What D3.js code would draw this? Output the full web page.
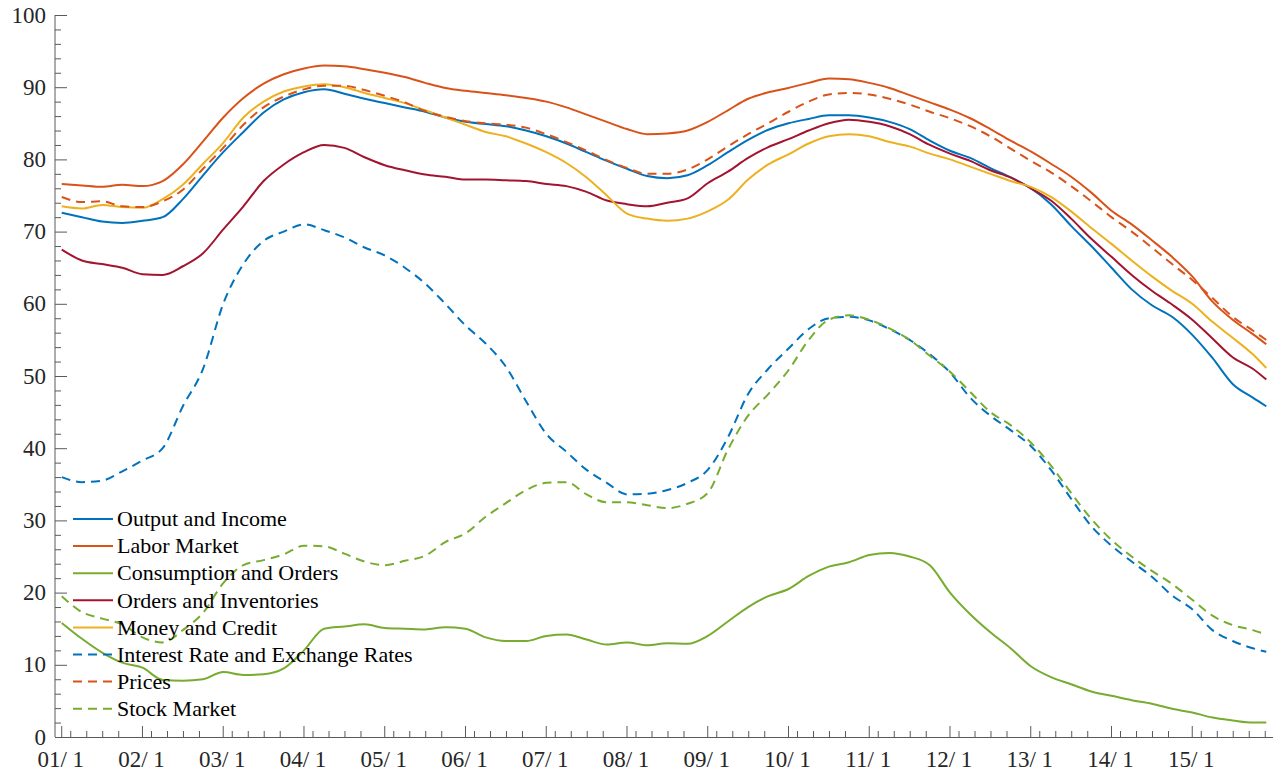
<!DOCTYPE html>
<html>
<head>
<meta charset="utf-8">
<script src="https://cdn.jsdelivr.net/npm/d3@7"></script>
<style>
  html, body { margin: 0; padding: 0; background: #fff; }
  svg { display: block; }
  text { font-family: "Liberation Serif", "Times New Roman", serif; fill: #262626; }
</style>
</head>
<body>
<svg id="chart" width="1273" height="775"></svg>
<script>
// Month index (0 = 2001 Jan), sampled every 3 months
const months = [0,3,6,9,12,15,18,21,24,27,30,33,36,39,42,45,48,51,54,57,60,63,66,69,72,75,78,81,84,87,90,93,96,99,102,105,108,111,114,117,120,123,126,129,132,135,138,141,144,147,150,153,156,159,162,165,168,171,174,177,179];

const outputIncome = [72.6,72.0,71.4,71.2,71.5,72.0,74.5,77.8,81.0,83.8,86.5,88.3,89.3,89.7,89.1,88.4,87.8,87.2,86.6,85.8,85.2,84.9,84.6,84.0,83.2,82.2,81.0,79.8,78.7,77.7,77.4,77.8,79.2,81.0,82.7,84.1,85.0,85.6,86.1,86.1,85.8,85.2,84.2,82.6,81.2,80.2,78.8,77.5,76.0,73.8,70.8,68.0,65.0,62.0,59.8,58.2,55.7,52.5,48.9,47.0,45.8];
const laborMarket = [76.6,76.4,76.2,76.5,76.3,77.0,79.3,82.5,85.8,88.5,90.5,91.8,92.6,93.0,92.9,92.5,92.0,91.4,90.6,89.9,89.5,89.2,88.9,88.5,88.0,87.2,86.2,85.2,84.2,83.5,83.6,84.0,85.2,86.8,88.4,89.3,89.9,90.6,91.2,91.1,90.6,89.9,88.9,87.9,86.9,85.7,84.2,82.6,81.1,79.4,77.6,75.4,72.9,71.0,68.8,66.5,63.8,60.3,57.8,55.8,54.4];
const consumptionOrders = [15.8,13.6,11.7,10.3,9.6,7.9,7.8,8.0,9.0,8.6,8.7,9.5,12.0,15.0,15.3,15.6,15.1,15.0,14.9,15.2,15.0,13.8,13.3,13.3,14.0,14.2,13.5,12.8,13.1,12.7,13.0,12.9,14.0,16.0,18.0,19.5,20.5,22.3,23.6,24.2,25.2,25.5,25.0,23.8,20.0,17.0,14.5,12.3,9.8,8.3,7.3,6.3,5.7,5.1,4.6,3.9,3.4,2.7,2.3,2.0,2.0];
const ordersInventories = [67.5,66.0,65.5,65.0,64.1,64.0,65.2,67.0,70.3,73.5,77.0,79.3,81.0,82.0,81.6,80.3,79.2,78.5,77.9,77.6,77.2,77.2,77.1,77.0,76.6,76.3,75.5,74.3,73.8,73.5,74.0,74.6,76.7,78.3,80.2,81.7,82.8,84.0,85.0,85.5,85.2,84.6,83.5,82.0,80.8,79.8,78.5,77.5,76.0,74.3,71.8,69.0,66.5,64.0,61.8,59.9,57.8,55.2,52.6,51.0,49.5];
const moneyCredit = [73.5,73.2,73.7,73.4,73.3,74.5,76.5,79.4,82.3,85.8,88.0,89.4,90.1,90.4,90.0,89.2,88.5,87.8,86.8,85.8,84.8,83.8,83.2,82.2,81.0,79.5,77.5,75.0,72.5,71.8,71.5,71.8,72.8,74.4,77.2,79.3,80.7,82.2,83.2,83.5,83.2,82.4,81.8,80.8,80.0,79.0,78.0,77.0,76.2,74.8,72.8,70.5,68.3,66.0,63.8,61.8,60.0,57.5,55.3,53.0,51.1];
const interestExchange = [36.0,35.3,35.5,36.8,38.3,40.0,45.8,51.0,60.0,65.5,68.7,70.0,71.0,70.2,69.2,67.8,66.7,65.0,62.8,60.0,57.0,54.5,51.3,46.5,42.0,39.5,37.0,35.2,33.6,33.7,34.2,35.2,37.0,41.5,47.5,51.0,53.8,56.5,58.0,58.2,57.7,56.5,55.0,53.0,50.5,47.0,44.5,42.5,40.3,37.0,33.0,29.2,26.5,24.3,22.2,19.6,17.7,14.8,13.3,12.3,11.8];
const prices = [74.8,74.1,74.2,73.5,73.4,74.2,75.8,78.7,81.6,84.8,87.2,88.7,89.7,90.2,90.2,89.6,88.8,87.9,86.7,85.9,85.3,85.0,84.8,84.4,83.5,82.4,81.2,79.9,78.8,78.0,78.0,78.6,80.0,81.8,83.5,85.0,86.6,88.0,89.0,89.2,89.0,88.4,87.6,86.6,85.7,84.6,83.2,81.5,79.8,78.2,76.3,74.2,72.0,70.0,67.8,65.5,63.3,60.8,58.2,56.3,55.0];
const stockMarket = [19.5,17.3,16.4,15.6,13.8,13.1,14.8,17.2,21.3,23.8,24.5,25.3,26.5,26.4,25.4,24.3,23.8,24.4,25.1,27.0,28.2,30.5,32.4,34.2,35.2,35.3,33.6,32.5,32.5,32.1,31.7,32.3,33.8,39.8,44.5,47.5,50.8,55.0,57.8,58.4,57.8,56.6,55.0,52.8,50.6,47.8,45.0,43.2,40.8,37.6,33.8,30.2,27.3,25.0,23.0,21.2,19.0,16.8,15.5,14.8,14.2];

const seriesNames = ["Output and Income","Labor Market","Consumption and Orders","Orders and Inventories","Money and Credit","Interest Rate and Exchange Rates","Prices","Stock Market"];
const seriesValues = [outputIncome, laborMarket, consumptionOrders, ordersInventories, moneyCredit, interestExchange, prices, stockMarket];
const seriesColors = ["#0072BD","#D95319","#77AC30","#A2142F","#EDB120","#0072BD","#D95319","#77AC30"];
const seriesDashed = [false,false,false,false,false,true,true,true];

const yearLabels = ["01/ 1","02/ 1","03/ 1","04/ 1","05/ 1","06/ 1","07/ 1","08/ 1","09/ 1","10/ 1","11/ 1","12/ 1","13/ 1","14/ 1","15/ 1"];
const yTicks = [0,10,20,30,40,50,60,70,80,90,100];

const svg = d3.select("#chart");
const x = d3.scaleLinear().domain([-1, 180]).range([55, 1273]);
const y = d3.scaleLinear().domain([0, 100]).range([737, 15]);

const axisColor = "#5a5a5a";

// Y axis
const yMinor = d3.range(0, 101, 2).filter(v => v % 10 !== 0);
const gy = svg.append("g");
gy.append("line").attr("x1", 55).attr("x2", 55).attr("y1", y(100)).attr("y2", y(0))
  .attr("stroke", axisColor).attr("stroke-width", 1);
gy.selectAll(".ymaj").data(yTicks).enter().append("line")
  .attr("x1", 55).attr("x2", 67).attr("y1", d => y(d) + 0.5).attr("y2", d => y(d) + 0.5)
  .attr("stroke", axisColor).attr("stroke-width", 1);
gy.selectAll(".ymin").data(yMinor).enter().append("line")
  .attr("x1", 55).attr("x2", 61).attr("y1", d => y(d) + 0.5).attr("y2", d => y(d) + 0.5)
  .attr("stroke", axisColor).attr("stroke-width", 1);
gy.selectAll(".ylab").data(yTicks).enter().append("text")
  .attr("x", 46).attr("y", d => y(d)).attr("dy", "0.33em")
  .attr("text-anchor", "end").attr("font-size", 23).text(d => d);

// X axis
const majorMonths = yearLabels.map((_, i) => i * 12);
const minorOffsets = [1.34, 3.72, 6.09, 8.47];
let minorMonths = [];
majorMonths.forEach((m, i) => {
  minorOffsets.forEach(o => minorMonths.push(m + o));
  if (i === majorMonths.length - 1) minorMonths.push(m + 10.85);
});
const gx = svg.append("g");
gx.append("line").attr("x1", 55).attr("x2", 1273).attr("y1", 737.5).attr("y2", 737.5)
  .attr("stroke", axisColor).attr("stroke-width", 1);
gx.selectAll(".xmaj").data(majorMonths).enter().append("line")
  .attr("x1", d => x(d)).attr("x2", d => x(d)).attr("y1", 737).attr("y2", 726)
  .attr("stroke", axisColor).attr("stroke-width", 1);
gx.selectAll(".xmin").data(minorMonths).enter().append("line")
  .attr("x1", d => x(d)).attr("x2", d => x(d)).attr("y1", 737).attr("y2", 731)
  .attr("stroke", axisColor).attr("stroke-width", 1);
gx.selectAll(".xlab").data(yearLabels).enter().append("text")
  .attr("x", (d, i) => x(majorMonths[i]) - 1).attr("y", 767)
  .attr("text-anchor", "middle").attr("font-size", 23).text(d => d);

// Lines
const line = d3.line().x((d, i) => x(months[i])).y(d => y(d)).curve(d3.curveMonotoneX);
seriesValues.forEach((vals, k) => {
  svg.append("path").datum(vals)
    .attr("d", line)
    .attr("fill", "none")
    .attr("stroke", seriesColors[k])
    .attr("stroke-width", 2)
    .attr("stroke-linejoin", "round")
    .attr("stroke-dasharray", seriesDashed[k] ? "9,6" : null);
});

// Legend
const lg = svg.append("g");
seriesNames.forEach((name, k) => {
  const cy = 519 + k * 27.1;
  lg.append("line").attr("x1", 73).attr("x2", 113).attr("y1", cy).attr("y2", cy)
    .attr("stroke", seriesColors[k]).attr("stroke-width", 2)
    .attr("stroke-dasharray", seriesDashed[k] ? "9,6" : null);
  lg.append("text").attr("x", 117).attr("y", cy).attr("dy", "0.33em")
    .attr("font-size", 22).style("fill", "#000").text(name);
});
</script>
</body>
</html>
